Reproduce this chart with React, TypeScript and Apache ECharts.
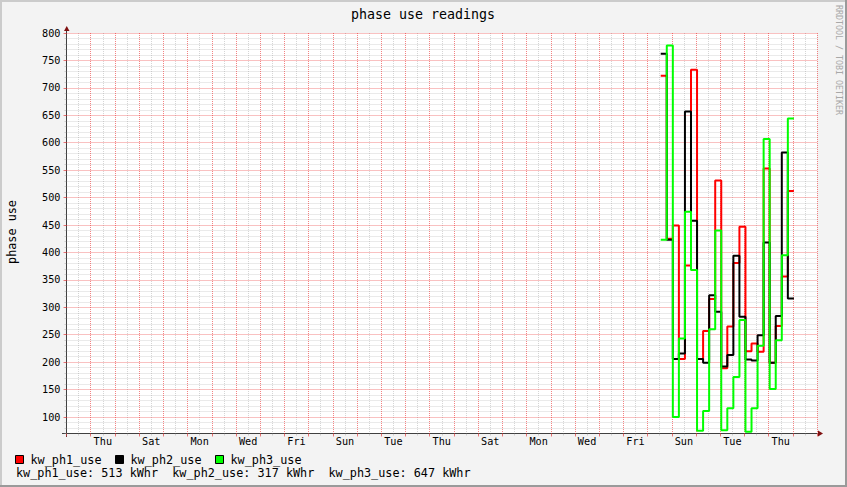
import React, { useEffect, useRef } from 'react';
import * as echarts from 'echarts';

// ---- texts ----
const TITLE = 'phase use readings';
const Y_TITLE = 'phase use';
const WATERMARK = 'RRDTOOL / TOBI OETIKER';
const UNIT = 'kWhr';

// ---- series meta ----
const seriesNames = ['kw_ph1_use', 'kw_ph2_use', 'kw_ph3_use'];
const seriesColors = ['#ff0000', '#000000', '#00ff00'];
const seriesTotals = [513, 317, 647];

// ---- data: hours since the first labelled Thursday 00:00, one sample per 6 h ----
const sampleStartHours = [
  565, 571, 577, 583, 589, 595, 601, 607, 613, 619, 625,
  631, 637, 643, 649, 655, 661, 667, 673, 679, 685, 691,
];
const sampleEndHour = 697;

const ph1Use = [722, 425, 449, 206, 376, 733, 206, 257, 315, 531, 189, 265, 381, 447, 220, 234, 219, 553, 199, 266, 356, 512];
const ph2Use = [762, 423, 206, 216, 657, 458, 206, 199, 322, 292, 192, 213, 394, 283, 205, 203, 249, 418, 199, 284, 582, 316];
const ph3Use = [423, 777, 100, 243, 474, 368, 75, 111, 260, 440, 76, 116, 173, 277, 73, 116, 230, 607, 151, 240, 395, 644];

// ---- axis ----
const xTickLabels = ['Thu', 'Sat', 'Mon', 'Wed', 'Fri', 'Sun', 'Tue', 'Thu', 'Sat', 'Mon', 'Wed', 'Fri', 'Sun', 'Tue', 'Thu'];
const X_MIN = -24;
const X_MAX = 720;
const Y_MIN = 70;
const Y_MAX = 800;

const FONT = 'DejaVu Sans Mono';
const MINOR = 'rgba(150,150,150,0.4)';
const MAJOR = 'rgba(235,30,30,0.55)';
const AXIS = '#404040';
const ARROW = '#7f1010';
const HIDDEN = 'rgba(0,0,0,0)';

// one colour per split line (min and max are multiples of step, so every tick is a multiple)
function lineColors(step: number, min: number, max: number, color: string, hide: (v: number) => boolean) {
  const arr: string[] = [];
  for (let v = min; v <= max + 1e-9; v += step) arr.push(hide(v) ? HIDDEN : color);
  return arr;
}
const isMult = (v: number, m: number) => Math.abs(v / m - Math.round(v / m)) < 1e-9;

function toSteps(vals: number[]) {
  const pts: number[][] = sampleStartHours.map((t, i) => [t, vals[i]]);
  pts.push([sampleEndHour, vals[vals.length - 1]]);
  return pts;
}

const seriesValues = [ph1Use, ph2Use, ph3Use];

function buildOption() {
  const graphic: any[] = [
    // bevel border
    { type: 'rect', shape: { x: 0, y: 0, width: 847, height: 2 }, style: { fill: '#cbcbcb' }, silent: true },
    { type: 'rect', shape: { x: 0, y: 0, width: 2, height: 487 }, style: { fill: '#cbcbcb' }, silent: true },
    { type: 'rect', shape: { x: 0, y: 485, width: 847, height: 2 }, style: { fill: '#9a9a9a' }, silent: true },
    { type: 'rect', shape: { x: 845, y: 0, width: 2, height: 487 }, style: { fill: '#9a9a9a' }, silent: true },
    // axis extensions
    { type: 'line', shape: { x1: 62, y1: 433.5, x2: 67, y2: 433.5 }, style: { stroke: AXIS, lineWidth: 1 }, silent: true },
    { type: 'line', shape: { x1: 66.5, y1: 433, x2: 66.5, y2: 437 }, style: { stroke: AXIS, lineWidth: 1 }, silent: true },
    { type: 'line', shape: { x1: 66.5, y1: 34, x2: 66.5, y2: 30 }, style: { stroke: AXIS, lineWidth: 1 }, silent: true },
    // arrows
    { type: 'polygon', shape: { points: [[64, 31], [69.5, 31], [66.75, 26]] }, style: { fill: ARROW }, silent: true },
    { type: 'polygon', shape: { points: [[818, 430.5], [818, 436.5], [823, 433.5]] }, style: { fill: ARROW }, silent: true },
    // title
    { type: 'text', x: 423, y: 14, style: { text: TITLE, font: `13.3px ${FONT}`, fill: '#000', align: 'center', verticalAlign: 'middle' }, silent: true },
    // y title
    { type: 'text', x: 11.5, y: 232, rotation: Math.PI / 2, style: { text: Y_TITLE, font: `11.8px ${FONT}`, fill: '#000', align: 'center', verticalAlign: 'middle' }, silent: true },
    // watermark
    { type: 'text', x: 838.5, y: 60, rotation: -Math.PI / 2, style: { text: WATERMARK, font: `8.3px ${FONT}`, fill: '#a8a8a8', align: 'center', verticalAlign: 'middle' }, silent: true },
  ];

  seriesNames.forEach((name, i) => {
    graphic.push({
      type: 'rect',
      shape: { x: 15.5 + i * 100, y: 455.5, width: 8, height: 8 },
      style: { fill: seriesColors[i], stroke: '#000', lineWidth: 1 },
      silent: true,
    });
    graphic.push({
      type: 'text', x: 30.5 + i * 100, y: 459.5,
      style: { text: name, font: `11.8px ${FONT}`, fill: '#000', align: 'left', verticalAlign: 'middle' },
      silent: true,
    });
  });
  const totalsLine = seriesNames.map((n, i) => `${n}: ${seriesTotals[i]} ${UNIT}`).join('  ');
  graphic.push({
    type: 'text', x: 16, y: 472.7,
    style: { text: totalsLine, font: `11.8px ${FONT}`, fill: '#000', align: 'left', verticalAlign: 'middle' },
    silent: true,
  });

  const commonX = { type: 'value', position: 'bottom', gridIndex: 0, min: X_MIN, max: X_MAX };
  const dotted = (color: any) => ({ show: true, lineStyle: { color, type: [1, 1], width: 1 } });

  return {
    animation: false,
    backgroundColor: '#f3f3f3',
    textStyle: { fontFamily: FONT },
    grid: { left: 66.5, top: 33, width: 750.6, height: 400.5, show: true, backgroundColor: '#ffffff', borderWidth: 0, containLabel: false },
    xAxis: [
      {
        ...commonX, minInterval: 12, maxInterval: 12, z: 0,
        axisLine: { show: true, onZero: false, lineStyle: { color: AXIS, width: 1 } },
        axisTick: { show: true, length: 2, lineStyle: { color: MINOR } },
        axisLabel: { show: false },
        splitLine: dotted(lineColors(12, X_MIN, X_MAX, MINOR, (v) => isMult(v, 24))),
      },
      {
        ...commonX, minInterval: 24, maxInterval: 24, z: 1,
        axisLine: { show: false, onZero: false },
        axisTick: { show: true, length: 3, lineStyle: { color: MAJOR } },
        axisLabel: { show: false },
        splitLine: dotted(lineColors(24, X_MIN, X_MAX, MAJOR, (v) => v === X_MIN)),
      },
      {
        type: 'value', position: 'bottom', gridIndex: 0,
        min: X_MIN - 12, max: X_MAX - 12, minInterval: 48, maxInterval: 48,
        axisLine: { show: false, onZero: false },
        axisTick: { show: false },
        splitLine: { show: false },
        axisLabel: {
          show: true, margin: 3, fontSize: 10.2, color: '#000', fontFamily: FONT,
          showMinLabel: false, showMaxLabel: false,
          formatter: (v: number) => {
            const i = Math.round(v / 48);
            if (Math.abs(v - i * 48) > 1e-6 || i < 0 || i >= xTickLabels.length) return '';
            return xTickLabels[i];
          },
        },
      },
    ],
    yAxis: [
      {
        type: 'value', position: 'left', gridIndex: 0, min: Y_MIN, max: Y_MAX, minInterval: 10, maxInterval: 10, z: 0,
        axisLine: { show: true, onZero: false, lineStyle: { color: AXIS, width: 1 } },
        axisTick: { show: true, length: 2, lineStyle: { color: MINOR } },
        axisLabel: { show: false },
        splitLine: dotted(lineColors(10, Y_MIN, Y_MAX, MINOR, (v) => v === Y_MIN || isMult(v, 50))),
      },
      {
        type: 'value', position: 'left', gridIndex: 0, min: Y_MIN, max: Y_MAX, minInterval: 50, maxInterval: 50, z: 1,
        axisLine: { show: false, onZero: false },
        axisTick: { show: true, length: 3, lineStyle: { color: MAJOR } },
        axisLabel: {
          show: true, margin: 6, fontSize: 10.2, color: '#000', fontFamily: FONT,
          showMinLabel: false,
          formatter: (v: number) => (v % 50 === 0 ? String(v) : ''),
        },
        splitLine: { ...dotted(MAJOR), showMinLine: false },
      },
    ],
    series: seriesNames.map((name, i) => ({
      name,
      type: 'line',
      xAxisIndex: 0,
      yAxisIndex: 0,
      step: 'end',
      symbol: 'none',
      showSymbol: false,
      clip: true,
      z: 3,
      lineStyle: { color: seriesColors[i], width: 2 },
      itemStyle: { color: seriesColors[i] },
      data: toSteps(seriesValues[i]),
    })),
    graphic,
  };
}

export default function App() {
  const ref = useRef<HTMLDivElement>(null);
  useEffect(() => {
    document.body.style.margin = '0';
    if (!ref.current) return;
    const chart = echarts.init(ref.current, null, { renderer: 'svg' });
    chart.setOption(buildOption() as any);
    return () => chart.dispose();
  }, []);
  return <div ref={ref} style={{ width: 847, height: 487 }} />;
}
